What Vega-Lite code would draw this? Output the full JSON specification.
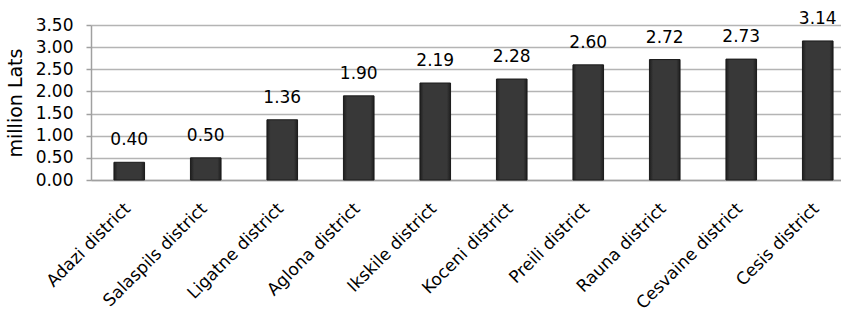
{
  "$schema": "https://vega.github.io/schema/vega-lite/v6.json",
  "autosize": "none",
  "padding": {"left": 91, "top": 25, "right": 0, "bottom": 140},
  "width": 765,
  "height": 155,
  "background": "white",
  "config": {
    "font": "DejaVu Sans",
    "view": {"stroke": null}
  },
  "data": {
    "values": [
      {"district": "Adazi district", "value": 0.40},
      {"district": "Salaspils district", "value": 0.50},
      {"district": "Ligatne district", "value": 1.36},
      {"district": "Aglona district", "value": 1.90},
      {"district": "Ikskile district", "value": 2.19},
      {"district": "Koceni district", "value": 2.28},
      {"district": "Preili district", "value": 2.60},
      {"district": "Rauna district", "value": 2.72},
      {"district": "Cesvaine district", "value": 2.73},
      {"district": "Cesis district", "value": 3.14}
    ]
  },
  "encoding": {
    "x": {
      "field": "district",
      "type": "nominal",
      "sort": null,
      "scale": {"paddingInner": 0.6, "paddingOuter": 0.3},
      "axis": {
        "title": null,
        "labelAngle": -45,
        "labelFontSize": 17,
        "labelColor": "#000000",
        "labelPadding": 20,
        "labelOffset": -7,
        "labelLimit": 300,
        "ticks": false,
        "domainColor": "#a0a0a0",
        "domainWidth": 1.5
      }
    },
    "y": {
      "field": "value",
      "type": "quantitative",
      "scale": {"domain": [0, 3.5], "nice": false},
      "axis": {
        "title": "million Lats",
        "titleFontSize": 19,
        "titleFontWeight": "normal",
        "titleColor": "#000000",
        "titlePadding": 10,
        "format": ".2f",
        "values": [0, 0.5, 1, 1.5, 2, 2.5, 3, 3.5],
        "labelFontSize": 17,
        "labelColor": "#000000",
        "labelPadding": 13,
        "tickSize": 5,
        "tickColor": "#a0a0a0",
        "tickWidth": 1.5,
        "domainColor": "#a0a0a0",
        "domainWidth": 1.5,
        "gridColor": "#b4b4b4",
        "gridWidth": 1.5
      }
    }
  },
  "layer": [
    {
      "mark": {
        "type": "bar",
        "color": {
          "gradient": "linear",
          "x1": 0, "y1": 0, "x2": 1, "y2": 0,
          "stops": [
            {"offset": 0, "color": "#1e1e1e"},
            {"offset": 0.12, "color": "#383838"},
            {"offset": 0.88, "color": "#383838"},
            {"offset": 1, "color": "#1e1e1e"}
          ]
        },
        "stroke": "#1a1a1a",
        "strokeWidth": 1
      }
    },
    {
      "mark": {
        "type": "text",
        "baseline": "bottom",
        "dy": -13,
        "fontSize": 17,
        "color": "#000000"
      },
      "encoding": {
        "text": {"field": "value", "type": "quantitative", "format": ".2f"}
      }
    }
  ]
}
